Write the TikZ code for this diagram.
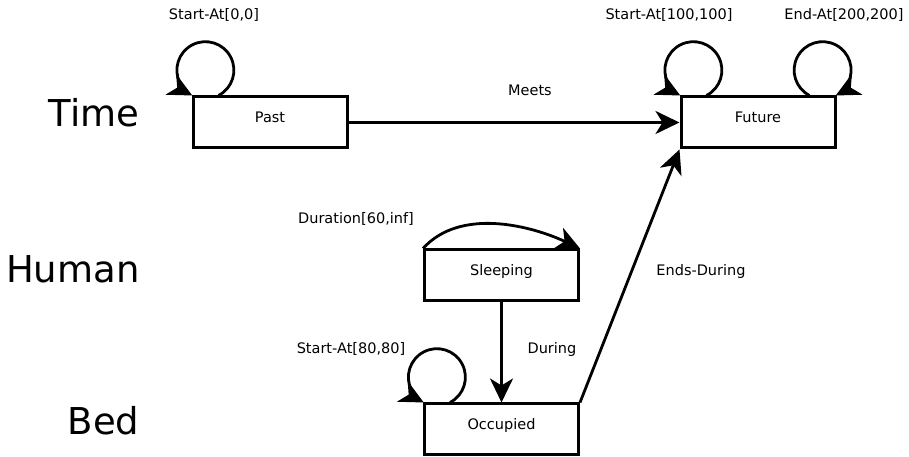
\documentclass[tikz,border=0pt]{standalone}
\usepackage{fontspec}
\setmainfont{DejaVu Sans}
\usetikzlibrary{arrows.meta}

\tikzset{
  statebox/.style={draw, line width=3pt, minimum width=154pt, minimum height=51pt,
    inner sep=0pt, text height=10pt, text depth=10pt, font=\fontsize{14.5}{16}\selectfont},
  lane/.style={anchor=base east, font=\fontsize{37}{40}\selectfont},
  rel/.style={anchor=base, font=\fontsize{14.5}{16}\selectfont},
  conn/.style={line width=2.8pt, -{Stealth[length=24pt,width=23pt,inset=7pt]}},
}

\begin{document}
\begin{tikzpicture}[x=1pt,y=1pt]
  \useasboundingbox (0,0) rectangle (909,457);

  % lane titles
  \node[lane] (tTime)  at (143,330) {Time};
  \node[lane] (tHuman) at (143,174) {Human};
  \node[lane] (tBed)   at (143,22)  {Bed};

  % states
  \node[statebox] (past)     at (270,334.5)   {Past};
  \node[statebox] (future)   at (758,334.5)   {Future};
  \node[statebox] (sleeping) at (501.5,181.5) {Sleeping};
  \node[statebox] (occupied) at (501.5,27.5)  {Occupied};

  % relations between states
  \draw[conn] (past.east) -- (future.west);
  \draw[conn] (sleeping.south) -- (occupied.north);
  \draw[conn] (occupied.north east) -- (future.south west);
  \draw[conn] (sleeping.north west) to[out=48,in=155,looseness=0.9] (sleeping.north east);

  % self loops
  \draw[conn] ([xshift=27pt]past.north west) arc[start angle=-62.6, end angle=242.6, radius=28.5];
  \draw[conn] ([xshift=27pt]future.north west) arc[start angle=-62.6, end angle=242.6, radius=28.5];
  \draw[conn] ([xshift=-27pt]future.north east) arc[start angle=242.6, end angle=-62.6, radius=28.5];
  \draw[conn] ([xshift=27pt]occupied.north west) arc[start angle=-62.6, end angle=242.6, radius=28.5];

  % relation labels
  \node[rel] (lStartPast)   at (214,437) {Start-At[0,0]};
  \node[rel] (lStartFuture) at (669,437) {Start-At[100,100]};
  \node[rel] (lEndFuture)   at (844,437) {End-At[200,200]};
  \node[rel] (lMeets)       at (530,361) {Meets};
  \node[rel] (lDuration)    at (356,233) {Duration[60,inf]};
  \node[rel] (lEnds)        at (701,181) {Ends-During};
  \node[rel] (lStartOcc)    at (351,103) {Start-At[80,80]};
  \node[rel] (lDuring)      at (552,103) {During};
\end{tikzpicture}
\end{document}
